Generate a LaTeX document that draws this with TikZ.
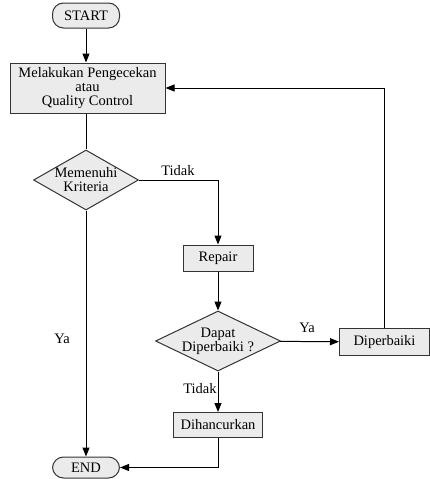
\documentclass[tikz,border=0pt]{standalone}
\usepackage{fontspec}
\setmainfont{Liberation Serif}
\usetikzlibrary{shapes.geometric,arrows.meta,positioning}
\definecolor{boxfill}{HTML}{EBEBEB}
\definecolor{edge}{HTML}{333333}
\begin{document}
\begin{tikzpicture}[x=1pt,y=-1pt,
  font=\fontsize{14.5}{14}\selectfont,
  terminal/.style={draw=edge,fill=boxfill,rounded corners=11pt,inner sep=0pt,line width=1pt},
  procbox/.style={draw=edge,fill=boxfill,inner sep=0pt,line width=1pt,align=center},
  decision/.style={diamond,draw=edge,fill=boxfill,inner sep=0pt,line width=1pt},
  flow/.style={draw=black,line width=1pt,-{Triangle[length=9pt,width=7pt]}},
  plain/.style={draw=black,line width=1pt},
  lbl/.style={inner sep=0pt}]
\useasboundingbox (0,0) rectangle (430,479);
\node[terminal,minimum width=67pt,minimum height=25pt] (start) at (86,15.5) {START};
\node[procbox,minimum width=155pt,minimum height=50pt] (qc) at (87.5,88) {Melakukan Pengecekan\\atau\\Quality Control};
\node[decision,minimum width=105pt,minimum height=60pt,label={[align=center,inner sep=0pt]center:Memenuhi\\Kriteria}] (d1) at (86,180) {};
\node[procbox,minimum width=70pt,minimum height=26pt] (repair) at (218,258) {Repair};
\node[decision,minimum width=125pt,minimum height=60pt,label={[align=center,inner sep=0pt]center:Dapat\\Diperbaiki ?}] (d2) at (218,341) {};
\node[procbox,minimum width=90pt,minimum height=27pt] (fix) at (384.5,342) {Diperbaiki};
\node[procbox,minimum width=89pt,minimum height=25pt] (destroy) at (218,425) {Dihancurkan};
\node[terminal,minimum width=67pt,minimum height=21pt] (end) at (86,467.5) {END};
\node[lbl] (t1) at (178,171) {Tidak};
\node[lbl] (y1) at (62,339) {Ya};
\node[lbl] (y2) at (307,328) {Ya};
\node[lbl] (t2) at (200,389) {Tidak};
\draw[flow] (start) -- (start |- qc.north);
\draw[plain] (d1 |- qc.south) -- (d1);
\draw[flow] (d1.east) -| (repair.north);
\draw[flow] (repair) -- (d2);
\draw[flow] (d2) -- (fix);
\draw[flow] (fix.north) |- (qc.east);
\draw[flow] (d2) -- (destroy);
\draw[flow] (destroy.south) |- (end.east);
\draw[flow] (d1) -- (end);
\end{tikzpicture}
\end{document}
